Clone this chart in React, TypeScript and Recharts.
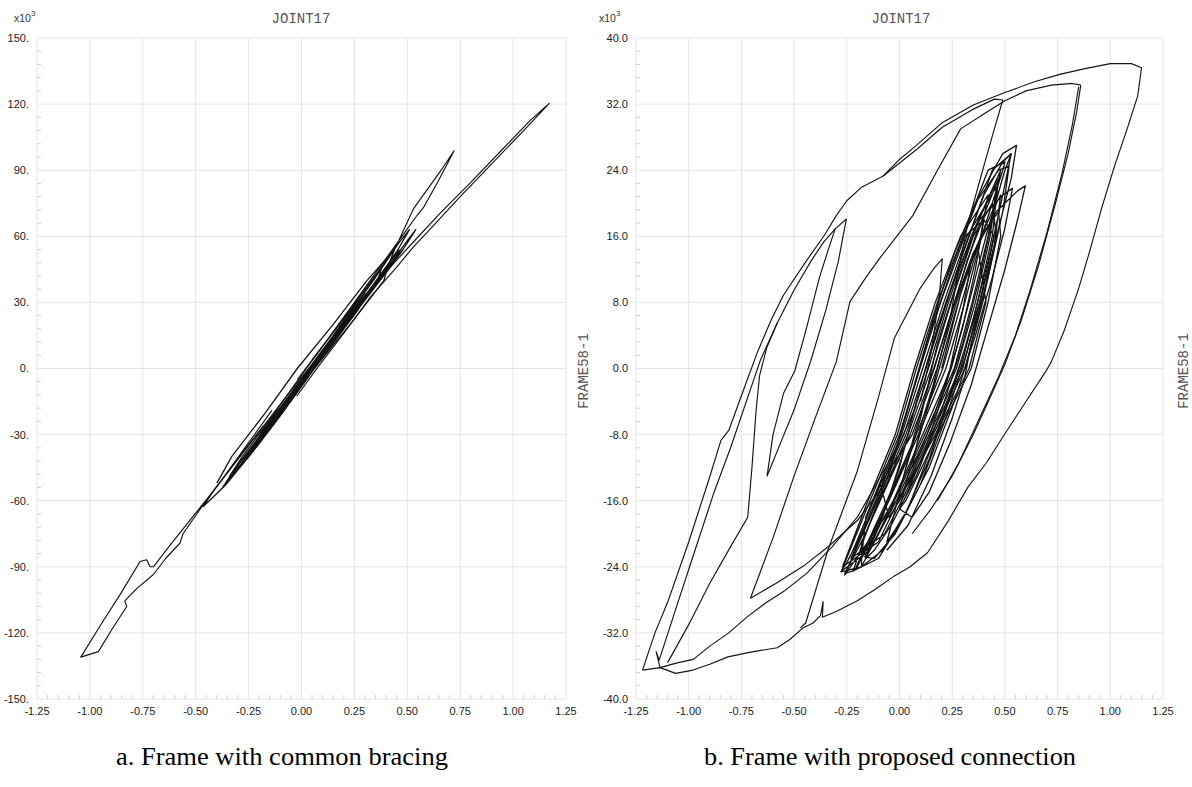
import React from 'react';
import { LineChart, Line, XAxis, YAxis, CartesianGrid, ReferenceLine } from 'recharts';

// ---------- axes ----------
const xTicks = [-1.25, -1.0, -0.75, -0.5, -0.25, 0, 0.25, 0.5, 0.75, 1.0, 1.25];
const leftYTicks = [-150, -120, -90, -60, -30, 0, 30, 60, 90, 120, 150];
const rightYTicks = [-40, -32, -24, -16, -8, 0, 8, 16, 24, 32, 40];

const titleText = 'JOINT17';
const sideLabel = 'FRAME58-1';
const captionA = 'a. Frame with common bracing';
const captionB = 'b. Frame with proposed connection';

// ---------- left panel (common bracing), x = displacement, y = force x10^3 ----------
const leftCore: number[][] = [
  [0.02, -2], [0.10, 8], [0.17, 17], [0.22, 24], [0.18, 17], [0.10, 6], [0.02, -5], [-0.06, -15], [-0.11, -21], [-0.06, -14], [0.0, -6],
  [0.08, 4], [0.18, 17], [0.27, 29], [0.32, 35], [0.27, 27], [0.17, 14], [0.06, 0], [-0.04, -13], [-0.14, -25], [-0.21, -33], [-0.15, -25], [-0.06, -14],
  [0.04, -1], [0.14, 12], [0.25, 26], [0.35, 39], [0.40, 45], [0.34, 36], [0.22, 21], [0.10, 6], [-0.02, -10], [-0.14, -25], [-0.25, -38], [-0.31, -45], [-0.24, -36], [-0.12, -21],
  [0.0, -6], [0.12, 9], [0.24, 24], [0.35, 38], [0.44, 50], [0.48, 54], [0.42, 46], [0.30, 31], [0.18, 16], [0.06, 0], [-0.06, -16], [-0.18, -31], [-0.30, -46], [-0.38, -55], [-0.33, -48], [-0.20, -31], [-0.08, -16],
  [0.04, 0], [0.16, 15], [0.28, 30], [0.40, 45], [0.50, 58], [0.54, 63], [0.48, 54], [0.36, 39], [0.24, 24], [0.12, 8], [0.0, -8], [-0.12, -24], [-0.24, -39], [-0.36, -53], [-0.464, -62.6], [-0.42, -56], [-0.30, -41], [-0.17, -25], [-0.05, -10],
  [0.06, 3], [0.18, 18], [0.30, 33], [0.40, 46], [0.46, 54], [0.42, 47], [0.32, 34], [0.20, 19], [0.08, 3], [-0.04, -12], [-0.16, -28], [-0.28, -43], [-0.36, -52], [-0.28, -41], [-0.16, -26], [-0.04, -10], [0.06, 2],
];
const leftCore2: number[][] = [
  [-0.40, -52], [-0.33, -40], [-0.17, -20], [-0.02, 0], [0.15, 20], [0.31, 40], [0.44, 54], [0.40, 44], [0.39, 40], [0.23, 20], [0.06, 0], [-0.09, -20], [-0.25, -40], [-0.34, -49],
  [-0.28, -40], [-0.14, -22], [0.0, -3], [0.16, 18], [0.30, 36], [0.38, 46], [0.36, 40], [0.24, 24], [0.10, 6], [-0.05, -14], [-0.20, -34], [-0.29, -44],
  [-0.20, -31], [-0.06, -13], [0.08, 6], [0.22, 24], [0.34, 40], [0.46, 57], [0.51, 63], [0.45, 53], [0.34, 38], [0.20, 20], [0.05, 1], [-0.10, -19], [-0.22, -35], [-0.26, -40],
  [-0.18, -28], [-0.04, -10], [0.12, 11], [0.26, 30], [0.30, 34], [0.24, 26], [0.12, 9], [-0.02, -9], [-0.15, -26], [-0.23, -37],
];
const leftTo120: number[][] = [
  [-0.023, -12.6], [0.08, 1], [0.2, 16], [0.33, 33], [0.45, 46], [0.527, 55], [0.62, 64.5], [0.75, 78], [0.9, 93], [1.05, 108], [1.171, 120.3],
  [1.08, 112.5], [0.95, 99.5], [0.8, 84.5], [0.66, 71], [0.52, 56.5], [0.4, 44], [0.28, 30], [0.15, 14], [0.04, 0], [-0.06, -13],
];
const leftTo98: number[][] = [
  [0.05, 4], [0.18, 20], [0.32, 38], [0.45, 56], [0.528, 72.3], [0.6, 82], [0.66, 90], [0.721, 98.8], [0.69, 93], [0.64, 84], [0.576, 73],
  [0.55, 70], [0.46, 58], [0.34, 42], [0.22, 26], [0.1, 10], [-0.02, -5],
];
const leftLow: number[][] = [
  [-0.18, -26], [-0.30, -41], [-0.42, -56], [-0.52, -68], [-0.62, -80], [-0.70, -90], [-0.716, -89.9], [-0.732, -86.8], [-0.763, -87.6],
  [-0.85, -101.5], [-0.95, -116.5], [-1.043, -131], [-0.96, -128.5], [-0.90, -119], [-0.826, -108], [-0.835, -105.5], [-0.78, -100],
  [-0.70, -93.5], [-0.64, -86], [-0.574, -79.2], [-0.56, -75], [-0.48, -64], [-0.38, -51], [-0.26, -35], [-0.14, -19],
];

// ---------- right panel (proposed connection) ----------
const rightCore: number[][] = [
  [0.20, 0], [0.26, 6], [0.31, 11], [0.34, 13], [0.30, 7], [0.24, 0], [0.16, -6], [0.10, -10], [0.06, -12], [0.10, -7], [0.16, -2],
  [0.24, 6], [0.32, 13], [0.38, 17], [0.40, 18], [0.36, 12], [0.30, 5], [0.22, -2], [0.12, -10], [0.02, -16], [-0.04, -19], [0.02, -13], [0.10, -6],
  [0.18, 3], [0.28, 11], [0.36, 17], [0.43, 21], [0.47, 23], [0.44, 18], [0.38, 11], [0.30, 3], [0.20, -5], [0.08, -13], [-0.04, -19], [-0.12, -22], [-0.16, -23], [-0.08, -18], [0.02, -10],
  [0.10, -2], [0.20, 6], [0.30, 14], [0.40, 21], [0.49, 25], [0.53, 26], [0.49, 21], [0.43, 14], [0.35, 6], [0.26, -2], [0.14, -11], [0.02, -18], [-0.10, -23], [-0.22, -24.5], [-0.26, -24.8], [-0.16, -20], [-0.04, -12],
  [0.05, -4], [0.14, 4], [0.26, 13], [0.38, 21], [0.49, 26], [0.555, 27], [0.53, 23], [0.46, 16], [0.38, 8], [0.28, 0], [0.16, -9], [0.04, -17], [-0.08, -22], [-0.18, -24], [-0.278, -24.6], [-0.25, -23.5], [-0.14, -18], [-0.02, -10],
  [0.07, -2], [0.16, 6], [0.26, 14], [0.36, 20], [0.47, 24], [0.52, 24.5], [0.49, 19], [0.42, 11], [0.32, 2], [0.22, -6], [0.10, -14], [-0.02, -20], [-0.12, -23], [-0.165, -22.8], [-0.10, -19], [0.0, -12],
  [0.09, -3], [0.18, 5], [0.28, 12], [0.38, 18], [0.49, 21], [0.536, 21.8], [0.50, 17], [0.44, 11], [0.36, 4], [0.26, -4], [0.14, -12], [0.02, -18], [-0.06, -21], [0.0, -15],
  [0.07, -8], [0.15, -1], [0.25, 7], [0.35, 14], [0.46, 19], [0.56, 21.5], [0.597, 22.1], [0.56, 18], [0.50, 12], [0.42, 5], [0.34, -2], [0.24, -9], [0.14, -15], [0.06, -18], [0.0, -17], [0.05, -12],
  [0.12, -6], [0.20, 1], [0.29, 9], [0.37, 15], [0.44, 19], [0.48, 21], [0.45, 15], [0.40, 9], [0.34, 3], [0.308, -1.3], [0.25, -6], [0.15, -13], [0.04, -19], [-0.06, -22],
];
const rightCore2: number[][] = [
  [-0.22, -22], [-0.123, -16], [0.01, -8], [0.11, 0], [0.21, 8], [0.32, 16], [0.46, 22], [0.43, 16], [0.36, 8], [0.27, 0], [0.13, -8], [-0.015, -16], [-0.14, -22],
  [-0.275, -24.5], [-0.14, -16], [-0.01, -8], [0.08, 0], [0.18, 8], [0.30, 16], [0.42, 24], [0.50, 25], [0.49, 24], [0.39, 16], [0.31, 8], [0.22, 0], [0.09, -8], [-0.05, -16], [-0.20, -24], [-0.22, -24.5],
  [-0.16, -20], [-0.096, -16], [0.04, -8], [0.15, 0], [0.245, 8], [0.35, 16], [0.44, 20], [0.46, 16], [0.395, 8], [0.31, 0], [0.16, -8], [0.01, -16], [-0.07, -20],
  [-0.23, -23], [-0.114, -16], [0.02, -8], [0.124, 0], [0.22, 8], [0.33, 16], [0.44, 24], [0.53, 26], [0.50, 24], [0.41, 16], [0.33, 8], [0.245, 0], [0.11, -8], [-0.03, -16], [-0.18, -23],
  [-0.16, -18], [0.0, -8], [0.097, 0], [0.195, 8], [0.31, 16], [0.40, 18], [0.45, 16], [0.38, 8], [0.30, 0], [0.15, -8], [0.0, -16], [-0.05, -18],
  [-0.09, -14], [0.06, -8], [0.178, 0], [0.27, 8], [0.37, 15], [0.41, 8], [0.33, 0], [0.17, -8], [0.04, -14],
  [-0.26, -25], [-0.105, -16], [0.03, -8], [0.137, 0], [0.232, 8], [0.34, 16], [0.48, 24], [0.42, 16], [0.345, 8], [0.26, 0], [0.12, -8], [-0.024, -16], [-0.18, -24],
  [-0.18, -21], [0.05, -8], [0.165, 0], [0.26, 8], [0.36, 16], [0.47, 23], [0.44, 16], [0.37, 8], [0.29, 0], [0.14, -8], [-0.006, -16], [-0.10, -21],
  [-0.27, -24], [-0.15, -16], [-0.02, -8], [0.07, 0], [0.17, 8], [0.29, 16], [0.42, 21], [0.385, 16], [0.295, 8], [0.205, 0], [0.08, -8], [-0.06, -16], [-0.205, -24],
  [-0.07, -17], [0.08, -8], [0.205, 0], [0.295, 8], [0.385, 16], [0.47, 19], [0.48, 16], [0.42, 8], [0.34, 0], [0.18, -8], [0.03, -16], [0.0, -17],
];
const rightLeftmost: number[][] = [
  [-1.219, -36.5], [-1.16, -32], [-1.10, -28.3], [-1.0, -21], [-0.9, -13.1], [-0.847, -8.7], [-0.81, -7.5], [-0.76, -4], [-0.707, -0.3],
  [-0.672, 2.1], [-0.61, 5.8], [-0.55, 8.9], [-0.445, 12.9], [-0.357, 16.1], [-0.3, 18.5], [-0.25, 20.3], [-0.182, 21.9], [-0.077, 23.3],
  [0.081, 26.5], [0.203, 29.2], [0.343, 31.3], [0.45, 32.6], [0.49, 32.5], [0.45, 29], [0.4, 24.5], [0.326, 17.7], [0.28, 12], [0.24, 6],
];
const rightSecond: number[][] = [
  [-1.136, -36.2], [-1.154, -34.3], [-1.14, -35.3], [-1.06, -29], [-0.97, -22], [-0.88, -15], [-0.8, -9.5], [-0.72, -3.5], [-0.66, 1],
  [-0.58, 5.5], [-0.5, 9.5], [-0.42, 13], [-0.36, 15.3], [-0.305, 16.9], [-0.252, 18.1],
];
const rightNarrow: number[][] = [
  [-0.252, 18.1], [-0.29, 13], [-0.35, 7], [-0.42, 1], [-0.5, -5], [-0.58, -10], [-0.628, -13], [-0.6, -8], [-0.55, -3], [-0.497, -0.3],
  [-0.44, 5], [-0.38, 11], [-0.33, 15], [-0.305, 16.9],
];
const rightThird: number[][] = [
  [-1.1, -35.6], [-1.0, -31], [-0.9, -26], [-0.8, -21.5], [-0.72, -18], [-0.7, -12], [-0.68, -5], [-0.664, -0.9], [-0.63, 2.5], [-0.58, 5.5],
];
const rightOuter: number[][] = [
  [-0.077, 23.3], [0.0, 25.3], [0.08, 27.0], [0.2, 29.7], [0.35, 31.9], [0.5, 33.4], [0.64, 34.7], [0.76, 35.6], [0.88, 36.3], [1.0, 36.9],
  [1.1, 36.9], [1.148, 36.4], [1.13, 33], [1.08, 29], [1.02, 24.5], [0.96, 19.5], [0.9, 14], [0.85, 9.7], [0.78, 4.5], [0.72, 0.8], [0.7, -0.1],
  [0.6, -4], [0.5, -7.9], [0.41, -11.5], [0.326, -14.3], [0.23, -18.5], [0.133, -22.3], [0.05, -24], [-0.024, -25.1], [-0.12, -26.8],
  [-0.2, -28.1], [-0.3, -29.4], [-0.366, -30.1], [-0.362, -28.2], [-0.375, -29.9], [-0.41, -30.8], [-0.458, -31.4], [-0.52, -32.8],
  [-0.58, -33.8], [-0.7, -34.3], [-0.814, -34.9], [-0.9, -35.8], [-0.98, -36.5], [-1.062, -36.9], [-1.136, -36.2], [-1.219, -36.5],
];
const rightRise: number[][] = [
  [-1.136, -36.2], [-1.05, -35.6], [-0.978, -35.2], [-0.9, -33.6], [-0.81, -32], [-0.72, -30], [-0.63, -28.3], [-0.55, -27.0],
  [-0.44, -24.8], [-0.32, -21.6], [-0.2, -18], [-0.1, -13.5], [0.0, -9], [0.08, -4.5],
];
const rightCornerLow: number[][] = [
  [-0.707, -27.8], [-0.585, -26.0], [-0.45, -23.8], [-0.34, -21.6], [-0.2, -18.4], [-0.1, -15], [0.0, -11],
];
const rightCornerUp: number[][] = [
  [-0.707, -27.8], [-0.6, -20.5], [-0.5, -13], [-0.4, -6], [-0.3, 0.8], [-0.235, 8.1], [-0.16, 11], [-0.095, 13.3], [0.063, 18.5],
  [0.18, 24], [0.29, 29], [0.4, 30.8], [0.5, 32.4], [0.6, 33.6], [0.72, 34.3], [0.82, 34.5], [0.86, 34.3],
];
const rightDown1: number[][] = [
  [0.86, 34.3], [0.84, 31], [0.8, 26], [0.74, 20], [0.66, 12.5], [0.58, 6], [0.5, 0.5], [0.43, -3.5], [0.35, -8], [0.25, -13], [0.15, -17], [0.06, -20],
];
const rightDown2: number[][] = [
  [0.85, 34.1], [0.82, 29.5], [0.77, 23.5], [0.7, 16.5], [0.62, 9.5], [0.55, 4], [0.47, -1], [0.38, -6], [0.28, -11.5], [0.18, -16],
];
const rightSpike: number[][] = [
  [-0.47, -31.4], [-0.445, -30.8], [-0.34, -22], [-0.2, -12.4], [-0.1, -3.5], [-0.024, 3.7], [0.098, 9.7], [0.16, 12], [0.203, 13.3],
  [0.19, 9], [0.15, 2], [0.1, -4],
];

const leftSegments = [leftCore, leftCore2, leftTo120, leftTo98, leftLow];
const rightSegments = [
  rightCore, rightCore2, rightLeftmost, rightSecond, rightNarrow, rightThird, rightOuter, rightRise,
  rightCornerLow, rightCornerUp, rightDown1, rightDown2, rightSpike,
];
const denseSegments = [leftCore, leftCore2, rightCore, rightCore2];

const toPts = (seg: number[][]) => seg.map(([x, y]) => ({ x, y }));

function minorTicks(major: number[], parts: number) {
  const out: number[] = [];
  for (let i = 0; i < major.length - 1; i++) {
    const step = (major[i + 1] - major[i]) / parts;
    for (let k = 1; k < parts; k++) out.push(major[i] + step * k);
  }
  return out;
}

const FONT = 'Liberation Sans, Arial, sans-serif';

type PanelProps = {
  left: number;
  width: number;
  marginRight: number;
  yAxisWidth: number;
  yTicks: number[];
  yFmt: (v: number) => string;
  segments: number[][][];
};

function Panel({ left, width, marginRight, yAxisWidth, yTicks, yFmt, segments }: PanelProps) {
  const yMin = yTicks[0];
  const yMax = yTicks[yTicks.length - 1];
  const ySpan = yMax - yMin;
  const xMin = xTicks[0];
  const xMinor = minorTicks(xTicks, 5);
  const yMinor = minorTicks(yTicks, 5);
  const tickLenY = (ySpan / 661) * 4;
  const tickLenX = (2.5 / (width - yAxisWidth - marginRight)) * 4;
  return (
    <div style={{ position: 'absolute', left, top: 0 }}>
      <LineChart width={width} height={720} margin={{ top: 38, right: marginRight, bottom: 0, left: 0 }}>
        <CartesianGrid stroke="#e4e4e4" strokeWidth={1} />
        <XAxis
          type="number"
          dataKey="x"
          domain={[xTicks[0], xTicks[xTicks.length - 1]]}
          ticks={xTicks}
          tickFormatter={(v: number) => v.toFixed(2)}
          axisLine={false}
          tickLine={false}
          height={21}
          allowDataOverflow
          interval={0}
          tick={{ fontSize: 11, fill: '#222', fontFamily: FONT }}
        />
        <YAxis
          type="number"
          domain={[yMin, yMax]}
          ticks={yTicks}
          tickFormatter={yFmt}
          axisLine={false}
          tickLine={false}
          width={yAxisWidth}
          allowDataOverflow
          interval={0}
          tick={{ fontSize: 11, fill: '#222', fontFamily: FONT }}
        />
        {xMinor.map((v) => (
          <ReferenceLine
            key={'xm' + v}
            segment={[{ x: v, y: yMin }, { x: v, y: yMin + tickLenY }]}
            stroke="#cfcfcf"
            strokeWidth={1}
          />
        ))}
        {yMinor.map((v) => (
          <ReferenceLine
            key={'ym' + v}
            segment={[{ x: xMin, y: v }, { x: xMin + tickLenX, y: v }]}
            stroke="#cfcfcf"
            strokeWidth={1}
          />
        ))}
        {segments.map((seg, i) => (
          <Line
            key={i}
            data={toPts(seg)}
            dataKey="y"
            type="linear"
            stroke="#141414"
            strokeWidth={denseSegments.includes(seg) ? 1.3 : 1.15}
            dot={false}
            activeDot={false}
            isAnimationActive={false}
            strokeLinejoin="round"
          />
        ))}
      </LineChart>
    </div>
  );
}

export default function App() {
  return (
    <div style={{ position: 'absolute', left: 0, top: 0, width: 1192, height: 787, background: '#fff', overflow: 'hidden' }}>
      <Panel
        left={0}
        width={600}
        marginRight={34}
        yAxisWidth={37}
        yTicks={leftYTicks}
        yFmt={(v: number) => `${v}.`}
        segments={leftSegments}
      />
      <Panel
        left={600}
        width={592}
        marginRight={29}
        yAxisWidth={36}
        yTicks={rightYTicks}
        yFmt={(v: number) => v.toFixed(1)}
        segments={rightSegments}
      />
      <svg width={1192} height={787} style={{ position: 'absolute', left: 0, top: 0, pointerEvents: 'none' }}>
        <text x={14} y={22} fontFamily={FONT} fontSize={10.5} fill="#333">
          x10<tspan dy={-6} fontSize={8}>3</tspan>
        </text>
        <text x={599} y={22} fontFamily={FONT} fontSize={10.5} fill="#333">
          x10<tspan dy={-6} fontSize={8}>3</tspan>
        </text>
        <text x={301} y={23} textAnchor="middle" fontFamily="Liberation Mono, monospace" fontSize={14} fill="#555">
          {titleText}
        </text>
        <text x={901} y={23} textAnchor="middle" fontFamily="Liberation Mono, monospace" fontSize={14} fill="#555">
          {titleText}
        </text>
        <text transform="translate(588,371) rotate(-90)" textAnchor="middle" fontFamily="Liberation Mono, monospace" fontSize={14} fill="#555">
          {sideLabel}
        </text>
        <text transform="translate(1188,371) rotate(-90)" textAnchor="middle" fontFamily="Liberation Mono, monospace" fontSize={14} fill="#555">
          {sideLabel}
        </text>
        <text x={116} y={765} textLength={332} lengthAdjust="spacingAndGlyphs" fontFamily="'Liberation Serif', 'Times New Roman', serif" fontSize={25} fill="#000">
          {captionA}
        </text>
        <text x={704} y={765} textLength={372} lengthAdjust="spacingAndGlyphs" fontFamily="'Liberation Serif', 'Times New Roman', serif" fontSize={25} fill="#000">
          {captionB}
        </text>
      </svg>
    </div>
  );
}
